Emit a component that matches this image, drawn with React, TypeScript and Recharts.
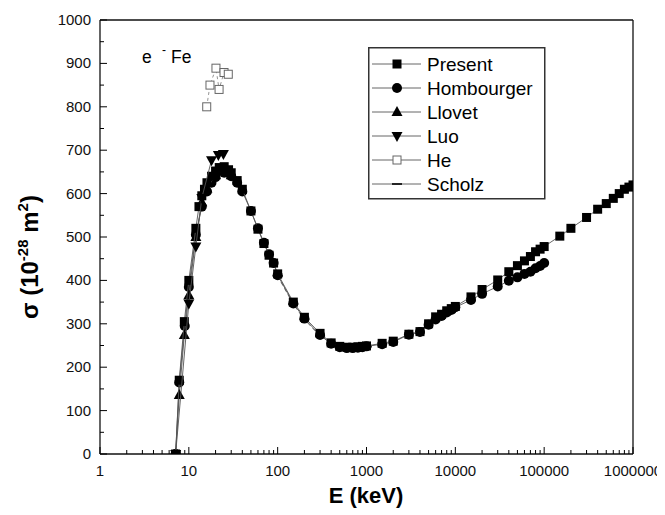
import React from 'react';
import { ComposedChart, Scatter, XAxis, YAxis, Legend, ReferenceLine, Customized } from 'recharts';

// ---- data ----
const presentE = [7.1, 7.8, 8.9, 10, 12, 13, 14, 15, 16, 18, 20, 22, 25, 28, 30, 35, 40, 50, 60, 70, 80, 90, 100, 150, 200, 300, 400, 500, 600, 700, 800, 900, 1000, 1500, 2000, 3000, 4000, 5000, 6000, 7000, 8000, 9000, 10000, 15000, 20000, 30000, 40000, 50000, 60000, 70000, 80000, 90000, 100000, 150000, 200000, 300000, 400000, 500000, 600000, 700000, 800000, 900000, 1000000];
const presentV = [0, 170, 305, 400, 520, 570, 595, 610, 625, 640, 652, 660, 662, 655, 648, 630, 610, 560, 518, 485, 458, 440, 415, 350, 315, 278, 256, 248, 246, 246, 247, 248, 249, 255, 260, 276, 282, 300, 316, 322, 330, 335, 340, 362, 379, 401, 420, 434, 445, 455, 466, 472, 478, 502, 520, 545, 564, 577, 589, 600, 610, 615, 620];

const hombE = [7.1, 7.8, 9, 10, 12, 14, 16, 18, 20, 25, 30, 35, 40, 50, 60, 70, 80, 90, 100, 150, 200, 300, 400, 500, 600, 700, 800, 900, 1000, 1500, 2000, 3000, 4000, 5000, 6000, 7000, 8000, 9000, 10000, 15000, 20000, 30000, 40000, 50000, 60000, 70000, 80000, 90000, 100000];
const hombV = [0, 165, 295, 385, 505, 570, 605, 625, 638, 648, 640, 625, 605, 560, 520, 487, 460, 440, 412, 347, 312, 274, 254, 246, 244, 244, 245, 246, 248, 253, 258, 275, 281, 298, 310, 318, 326, 332, 338, 355, 369, 386, 399, 407, 415, 420, 428, 433, 440];

const llovetE = [7.1, 7.8, 8.9, 10, 12, 14, 16, 20, 25, 30];
const llovetV = [0, 136, 274, 366, 500, 580, 612, 642, 652, 642];

const luoE = [7.1, 10, 12, 14, 18, 21.5, 24.5];
const luoV = [0, 347, 478, 590, 677, 689, 691];

const heE = [15.9, 17.3, 20.2, 21.9, 24.9, 27.8];
const heV = [800, 850, 889, 840, 879, 875];

const scholzE = [100, 150, 200, 300, 500, 1000];
const scholzV = [410, 345, 310, 272, 245, 247];

const xTicks = [1, 2, 3, 4, 5, 6, 7, 8, 9, 10, 20, 30, 40, 50, 60, 70, 80, 90, 100, 200, 300, 400, 500, 600, 700, 800, 900, 1000, 2000, 3000, 4000, 5000, 6000, 7000, 8000, 9000, 10000, 20000, 30000, 40000, 50000, 60000, 70000, 80000, 90000, 100000, 200000, 300000, 400000, 500000, 600000, 700000, 800000, 900000, 1000000];
const yTicks = [0, 50, 100, 150, 200, 250, 300, 350, 400, 450, 500, 550, 600, 650, 700, 750, 800, 850, 900, 950, 1000];

const legendNames = ['Present', 'Hombourger', 'Llovet', 'Luo', 'He', 'Scholz'];

const toPts = (e: number[], v: number[]) => e.map((x, i) => ({ e: x, v: v[i] }));

const FONT = '"Liberation Sans", Arial, sans-serif';
const LINE = '#555';

// ---- marker shapes ----
const Square = (p: any) => <rect x={p.cx - 4.5} y={p.cy - 4.5} width={9} height={9} fill="#000" />;
const Circ = (p: any) => <circle cx={p.cx} cy={p.cy} r={5} fill="#000" />;
const TriUp = (p: any) => (
  <polygon points={`${p.cx},${p.cy - 6} ${p.cx + 5.5},${p.cy + 4} ${p.cx - 5.5},${p.cy + 4}`} fill="#000" />
);
const TriDown = (p: any) => (
  <polygon points={`${p.cx},${p.cy + 6} ${p.cx + 5.5},${p.cy - 4} ${p.cx - 5.5},${p.cy - 4}`} fill="#000" />
);
const OpenSq = (p: any) => (
  <rect x={p.cx - 4} y={p.cy - 4} width={8} height={8} fill="#fff" stroke="#666" strokeWidth={1} />
);
const Dash = (p: any) => <line x1={p.cx - 5} x2={p.cx + 5} y1={p.cy} y2={p.cy} stroke="#000" strokeWidth={1.6} />;

const shapes = [Square, Circ, TriUp, TriDown, OpenSq, Dash];

// ---- ticks ----
const XTick = (props: any) => {
  const { x, y, payload } = props;
  const v = payload.value;
  const lg = Math.log10(v);
  const major = Math.abs(lg - Math.round(lg)) < 1e-9;
  return (
    <g>
      <line x1={x} x2={x} y1={y} y2={y - (major ? 7 : 4)} stroke="#000" strokeWidth={1} />
      {major && (
        <text x={x} y={y + 22} textAnchor="middle" fontSize={15} fontFamily={FONT} fill="#111">
          {String(v)}
        </text>
      )}
    </g>
  );
};

const YTick = (props: any) => {
  const { x, y, payload } = props;
  const v = payload.value;
  const major = v % 100 === 0;
  return (
    <g>
      <line x1={x} x2={x + (major ? 7 : 4)} y1={y} y2={y} stroke="#000" strokeWidth={1} />
      {major && (
        <text x={x - 9} y={y + 5} textAnchor="end" fontSize={15} fontFamily={FONT} fill="#111">
          {String(v)}
        </text>
      )}
    </g>
  );
};

// ---- legend ----
const renderLegend = () => (
  <svg width={178} height={153} style={{ display: 'block' }}>
    <rect x={0.75} y={0.75} width={176} height={151} fill="#fff" stroke="#333" strokeWidth={1.5} />
    {legendNames.map((n, i) => {
      const cy = 17 + i * 24;
      const S = shapes[i];
      return (
        <g key={n}>
          <line x1={4} x2={53} y1={cy} y2={cy} stroke="#666" strokeWidth={1} />
          <S cx={29} cy={cy} />
          <text x={59} y={cy + 6.5} fontSize={19} fontFamily={FONT} fill="#000">
            {n}
          </text>
        </g>
      );
    })}
  </svg>
);

const Annotation = () => (
  <g fontFamily={FONT} fill="#000">
    <text x={134} y={55} fontSize={17.5}>e</text>
    <text x={154} y={46} fontSize={12}>-</text>
    <text x={163} y={55} fontSize={17.5}>Fe</text>
  </g>
);

const series = [
  { name: 'Scholz', data: toPts(scholzE, scholzV), shape: Dash, dash: '4 3' },
  { name: 'He', data: toPts(heE, heV), shape: OpenSq, dash: '3 3' },
  { name: 'Hombourger', data: toPts(hombE, hombV), shape: Circ, dash: undefined },
  { name: 'Llovet', data: toPts(llovetE, llovetV), shape: TriUp, dash: undefined },
  { name: 'Present', data: toPts(presentE, presentV), shape: Square, dash: undefined },
  { name: 'Luo', data: toPts(luoE, luoV), shape: TriDown, dash: undefined },
];

export default function App() {
  return (
    <ComposedChart width={657} height={507} margin={{ top: 12, right: 32, left: 0, bottom: 0 }}>
      <XAxis
        dataKey="e"
        type="number"
        scale="log"
        domain={[1, 1000000]}
        allowDataOverflow
        ticks={xTicks}
        interval={0}
        tick={<XTick />}
        tickLine={false}
        tickSize={0}
        tickMargin={0}
        height={61}
        axisLine={{ stroke: '#111', strokeWidth: 1.3 }}
        label={{
          content: () => (
            <text x={358} y={495} textAnchor="middle" fontSize={22} fontWeight="bold" fontFamily={FONT} fill="#000">
              E (keV)
            </text>
          ),
        }}
      />
      <YAxis
        dataKey="v"
        type="number"
        domain={[0, 1000]}
        allowDataOverflow
        ticks={yTicks}
        interval={0}
        tick={<YTick />}
        tickLine={false}
        tickSize={0}
        tickMargin={0}
        width={92}
        axisLine={{ stroke: '#111', strokeWidth: 1.3 }}
        label={{
          content: () => (
            <text
              transform="translate(30,249) rotate(-90)"
              textAnchor="middle"
              fontSize={24}
              fontWeight="bold"
              fontFamily={FONT}
              fill="#000"
            >
              σ (10
              <tspan dy={-10} fontSize={15}>-28</tspan>
              <tspan dy={10}> m</tspan>
              <tspan dy={-10} fontSize={15}>2</tspan>
              <tspan dy={10}>)</tspan>
            </text>
          ),
        }}
      />
      <ReferenceLine y={1000} stroke="#111" strokeWidth={1.3} />
      <ReferenceLine x={1000000} stroke="#111" strokeWidth={1.3} />
      {series.map((s) => (
        <Scatter
          key={s.name}
          name={s.name}
          data={s.data}
          shape={s.shape}
          line={{ stroke: s.name === 'He' ? '#888' : LINE, strokeWidth: 0.9, strokeDasharray: s.dash }}
          lineType="joint"
          isAnimationActive={false}
        />
      ))}
      <Customized component={<Annotation />} />
      <Legend
        content={renderLegend}
        layout="vertical"
        align="center"
        verticalAlign="middle"
        wrapperStyle={{ left: 360, top: 39, width: 178, height: 153 }}
      />
    </ComposedChart>
  );
}
